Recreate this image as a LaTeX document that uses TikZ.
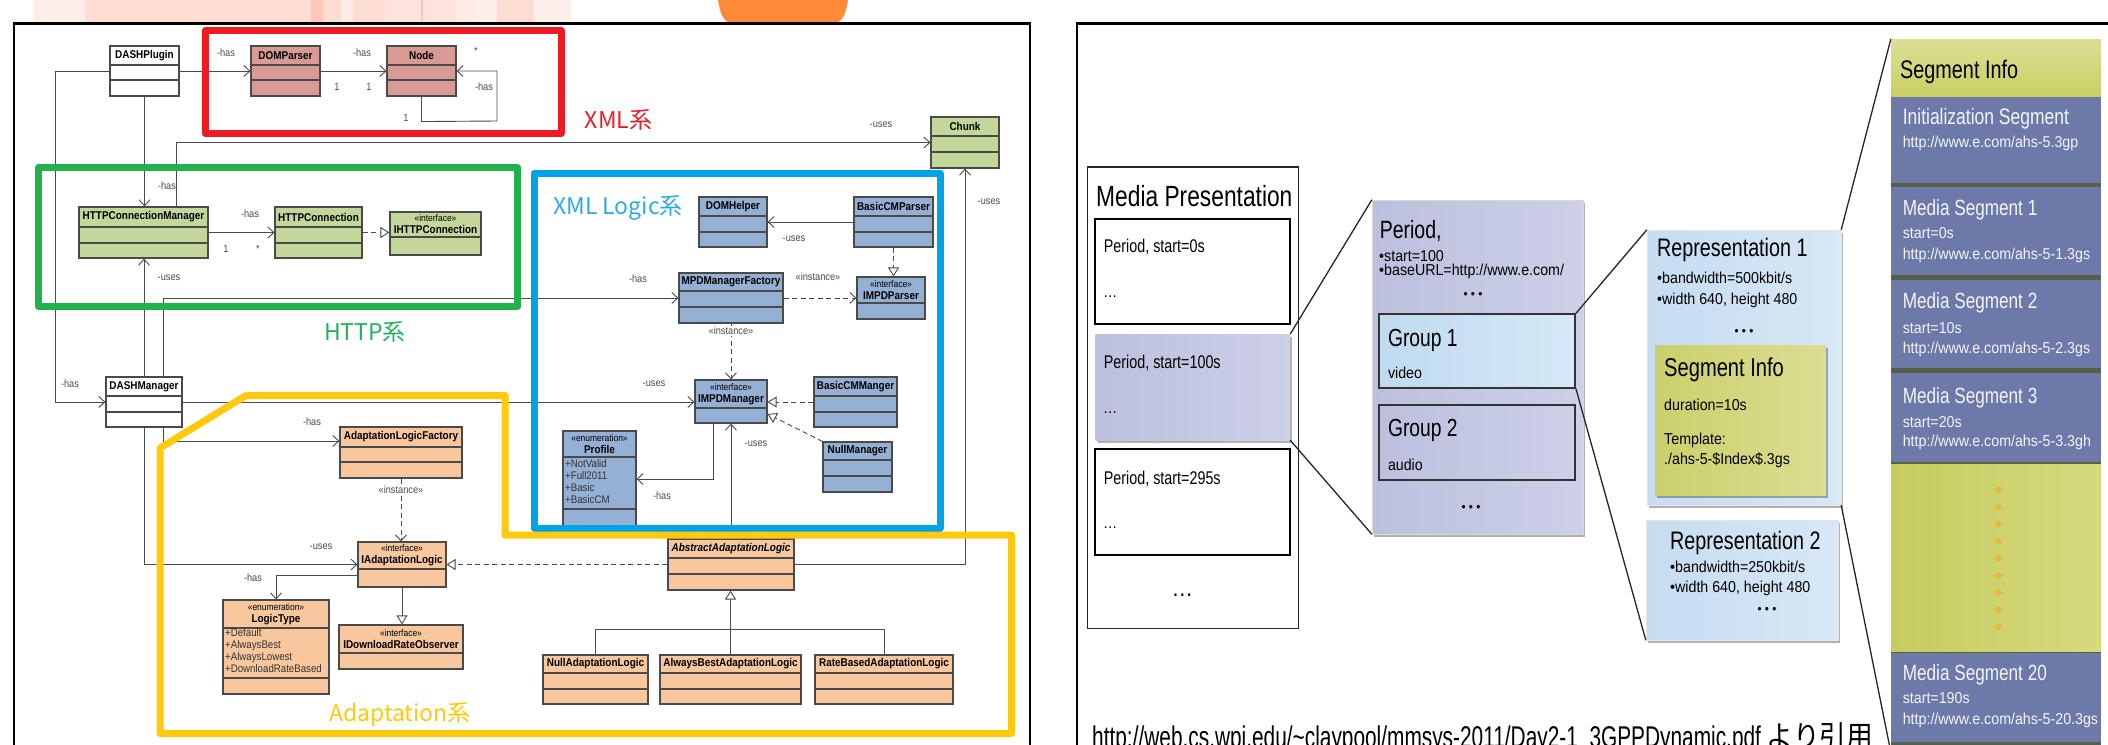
\documentclass[tikz,border=0pt]{standalone}
\usepackage{fontspec}
\usepackage{graphicx}
\setmainfont{Liberation Sans}
\newfontfamily\umlf[FakeStretch=0.88]{Liberation Sans}
\newfontfamily\rpA[FakeStretch=0.78]{Liberation Sans}
\newfontfamily\rpB[FakeStretch=0.9]{Liberation Sans}
\newfontfamily\cjk{Noto Sans CJK JP}
\usetikzlibrary{arrows.meta,fit,shadows}

\definecolor{umlred}{HTML}{D89A94}
\definecolor{umlgreen}{HTML}{C4D79B}
\definecolor{umlblue}{HTML}{95B0D5}
\definecolor{umlpeach}{HTML}{F8C79E}
\definecolor{umlline}{HTML}{4A4A4A}
\definecolor{gred}{HTML}{ED1C24}
\definecolor{ggreen}{HTML}{22B14C}
\definecolor{gblue}{HTML}{00A2E8}
\definecolor{gyellow}{HTML}{FFC90E}
\definecolor{lblue}{HTML}{2AABE4}
\definecolor{lgreen}{HTML}{20B35A}
\definecolor{pk1}{HTML}{FDEEEA}
\definecolor{pk2}{HTML}{FDDDD3}
\definecolor{pk3}{HTML}{FEC6B4}
\definecolor{pk4}{HTML}{FEEAE4}
\definecolor{pk5}{HTML}{FDE3DB}
\definecolor{orng}{HTML}{FF8B3A}
\definecolor{perA}{HTML}{BCC0DD}
\definecolor{perB}{HTML}{CDD0E7}
\definecolor{g1A}{HTML}{BFDAEF}
\definecolor{g1B}{HTML}{D5E9F7}
\definecolor{repA}{HTML}{C6DCF1}
\definecolor{repB}{HTML}{D7E8F6}
\definecolor{siA}{HTML}{CBD06A}
\definecolor{siB}{HTML}{DCDD92}
\definecolor{hdA}{HTML}{DCDF95}
\definecolor{hdB}{HTML}{C9CF63}
\definecolor{segslate}{HTML}{6C79A9}
\definecolor{colsep}{HTML}{56604A}
\definecolor{dotA}{HTML}{C6CC5E}
\definecolor{dotB}{HTML}{D6D97E}
\definecolor{dotcol}{HTML}{E8B93A}
\definecolor{segtxt}{HTML}{F4F5FA}

\tikzset{
  clsbox/.style={draw=umlline, line width=1.1pt},
  clsname/.style={font=\umlf\bfseries\fontsize{11.3}{12}\selectfont, align=center, inner sep=0pt, text=black},
  attr/.style={font=\umlf\fontsize{11}{12.2}\selectfont, align=left, anchor=north west, inner sep=0pt, text=black!80},
  lbl/.style={font=\umlf\fontsize{10.5}{11}\selectfont, text=black!70, inner sep=0pt},
  instlbl/.style={lbl, fill=white, inner sep=1pt},
  assoc/.style={draw=umlline, line width=0.9pt, -{Straight Barb[length=6pt,width=11pt]}},
  dep/.style={assoc, dash pattern=on 5pt off 3.5pt},
  gen/.style={draw=umlline, line width=0.9pt, -{Triangle[open,length=9pt,width=11pt,fill=white]}},
  real/.style={gen, dash pattern=on 5pt off 3.5pt},
  plainln/.style={draw=umlline, line width=0.9pt},
  grp/.style={line width=7pt, line join=round},
  grplbl/.style={font=\cjk\fontsize{23}{26}\selectfont, inner sep=0pt},
  tA/.style={anchor=west, inner sep=0pt, font=\rpA\fontsize{#1}{#1}\selectfont},
  tB/.style={anchor=west, inner sep=0pt, font=\rpB\fontsize{15.8}{17}\selectfont},
  dotsl/.style={inner sep=0pt, font=\rpB\fontsize{13}{13}\selectfont},
  zl/.style={draw=black!85, line width=1.3pt},
  bx/.style={inner sep=0pt},
  shd/.style={drop shadow={shadow xshift=2pt, shadow yshift=-2.5pt, opacity=0.3, fill=black}}
}
\newcommand{\stereo}[1]{{\mdseries\fontsize{9.6}{10}\selectfont «#1»}}
\newcommand{\cls}[9]{%
  \node[fit={(#2,#3)(#4,#5)}, inner sep=0pt, clsbox, fill=#8] (#1) {};
  \draw[clsbox] (#2,#6) -- (#4,#6);
  \draw[clsbox] (#2,#7) -- (#4,#7);
  \node[clsname] (#1-t) at ({(#2+#4)/2},{(#3+#6)/2}) {#9};
}

\begin{document}
\begin{tikzpicture}[x=1pt,y=-1pt]
\path[use as bounding box] (0,0) rectangle (2108,744);
\clip (0,0) rectangle (2108,744);
\fill[white] (0,0) rectangle (2108,744);

% top decoration
\fill[pk1] (34,0) rectangle (84.5,21.5);
\fill[pk2] (84.5,0) rectangle (311,21.5);
\fill[pk3] (311,0) rectangle (323,21.5);
\fill[pk2] (323,0) rectangle (341,21.5);
\fill[pk4] (341,0) rectangle (353,21.5);
\fill[pk2] (353,0) rectangle (385,21.5);
\fill[pk5] (385,0) rectangle (456,21.5);
\fill[pk3] (421,0) rectangle (423,21.5);
\fill[pk4] (456,0) rectangle (475,21.5);
\fill[pk1] (475,0) rectangle (497,21.5);
\fill[pk2] (497,0) rectangle (534,21.5);
\fill[pk1] (534,0) rectangle (571,21.5);
\fill[orng] (718,0) .. controls (720,14) and (724,23) .. (732,23) -- (834,23) .. controls (842,23) and (846,14) .. (848,0) -- cycle;

% frames
\draw[line width=2.5pt] (14,760) -- (14,23.3) -- (1030,23.3) -- (1030,760);
\draw[line width=2.5pt] (1077,760) -- (1077,23.3) -- (2115,23.3);

% ===== UML classes =====
\cls{dplug}{110}{46}{179}{96}{65}{80}{white}{DASHPlugin}
\cls{domp}{251}{46}{320}{96}{65}{80}{umlred}{DOMParser}
\cls{xnode}{387}{46}{456}{96}{65}{80}{umlred}{Node}
\cls{chunk}{931}{117}{999}{168}{136}{152}{umlgreen}{Chunk}
\cls{hcm}{79}{207}{208}{258}{227}{243}{umlgreen}{HTTPConnectionManager}
\cls{hc}{275}{207}{362}{258}{227}{243}{umlgreen}{HTTPConnection}
\cls{ihc}{390}{212}{481}{255}{237}{237}{umlgreen}{\stereo{interface}\\IHTTPConnection}
\cls{domh}{699}{197}{767}{247}{216}{232}{umlblue}{DOMHelper}
\cls{bcmp}{854}{197}{933}{247}{216}{232}{umlblue}{BasicCMParser}
\cls{mmf}{679}{273}{783}{323}{291}{307}{umlblue}{MPDManagerFactory}
\cls{impdp}{857}{277}{925}{319}{303}{303}{umlblue}{\stereo{interface}\\IMPDParser}
\cls{impdm}{695}{380}{767}{423}{408}{408}{umlblue}{\stereo{interface}\\IMPDManager}
\cls{bcmm}{814}{377}{897}{427}{396}{412}{umlblue}{BasicCMManger}
\cls{nullm}{823}{442}{892}{492}{460}{476}{umlblue}{NullManager}
\cls{prof}{563}{431}{636}{526}{457}{509}{umlblue}{\stereo{enumeration}\\Profile}
\cls{dman}{106}{377}{182}{427}{396}{412}{white}{DASHManager}
\cls{alf}{340}{427}{462}{478}{447}{462}{umlpeach}{AdaptationLogicFactory}
\cls{ial}{358}{542}{446}{587}{569}{569}{umlpeach}{\stereo{interface}\\IAdaptationLogic}
\cls{lt}{223}{600}{329}{694}{628}{678}{umlpeach}{\stereo{enumeration}\\LogicType}
\cls{idro}{339}{625}{463}{669}{653}{653}{umlpeach}{\stereo{interface}\\IDownloadRateObserver}
\cls{aal}{668}{539}{794}{590}{558}{574}{umlpeach}{\itshape AbstractAdaptationLogic}
\cls{nal}{543}{655}{648}{704}{673}{689}{umlpeach}{NullAdaptationLogic}
\cls{abal}{660}{655}{801}{704}{673}{689}{umlpeach}{AlwaysBestAdaptationLogic}
\cls{rbal}{815}{655}{953}{704}{673}{689}{umlpeach}{RateBasedAdaptationLogic}

\node[attr] (prof-a) at (565,459) {+NotValid\\+Full2011\\+Basic\\+BasicCM};
\node[attr] (lt-a) at (225,628) {+Default\\+AlwaysBest\\+AlwaysLowest\\+DownloadRateBased};

% ===== UML connectors =====
\draw[assoc] (dplug.east) -- (domp.west);
\draw[assoc] (domp.east) -- (xnode.west);
\draw[assoc] (xnode.south) -- ++(0,25) -- (497,121) |- (xnode.east);
\draw[assoc] (dplug.south) -- (dplug.south |- hcm.north);
\draw[assoc] (dplug.west) -- (55,71) |- (dman.west);
\draw[assoc] (hcm.east) -- (hc.west);
\draw[real] (hc.east) -- (hc.east -| ihc.west);
\draw[assoc] (hcm.north -| 176,0) |- (chunk.west);
\draw[assoc] (dman.north) -- (dman.north |- hcm.south);
\draw[assoc] (dman.north -| 163,0) |- (mmf.west);
\draw[assoc] (dman.east) -- (dman.east -| impdm.west);
\draw[assoc] (dman.south -| 163,0) |- (alf.west |- 0,441);
\draw[assoc] (dman.south) |- (ial.west);
\draw[dep] (alf.south) -- (alf.south |- ial.north);
\draw[assoc] (ial.west |- 0,575) -| (lt.north);
\draw[gen] (ial.south) -- (ial.south |- idro.north);
\draw[real] (aal.west) -- (aal.west -| ial.east);
\draw[assoc] (aal.north) -- (aal.north |- impdm.south);
\draw[assoc] (aal.east) -| (chunk.south);
\draw[plainln] (nal.north) -- (nal.north |- 0,629) -- (rbal.north |- 0,629) -- (rbal.north);
\draw[gen] (abal.north) -- (abal.north |- aal.south);
\draw[dep] (mmf.east) -- (mmf.east -| impdp.west);
\draw[dep] (mmf.south) -- (mmf.south |- impdm.north);
\draw[assoc] (bcmp.west) -- (bcmp.west -| domh.east);
\draw[real] (bcmp.south) -- (bcmp.south |- impdp.north);
\draw[real] (bcmm.west) -- (bcmm.west -| impdm.east);
\draw[real] (nullm.north west) -- (impdm.east |- 0,414);
\draw[assoc] (impdm.south -| 713,0) |- (prof.east |- 0,479);

% connector labels
\node[lbl] (l1) at (226,53) {-has};
\node[lbl] (l2) at (362,53) {-has};
\node[lbl] (l3) at (337,87) {1};
\node[lbl] (l4) at (369,87) {1};
\node[lbl] (l5) at (476,51) {*};
\node[lbl] (l6) at (484,87) {-has};
\node[lbl] (l7) at (406,118) {1};
\node[lbl] (l8) at (167,186) {-has};
\node[lbl] (l9) at (250,214) {-has};
\node[lbl] (l10) at (226,249) {1};
\node[lbl] (l11) at (258,249) {*};
\node[lbl] (l12) at (881,125) {-uses};
\node[lbl] (l13) at (989,202) {-uses};
\node[lbl] (l14) at (169,278) {-uses};
\node[lbl] (l15) at (638,279) {-has};
\node[lbl] (l16) at (654,384) {-uses};
\node[lbl] (l17) at (70,384) {-has};
\node[lbl] (l18) at (312,422) {-has};
\node[instlbl] (l19) at (401,490) {«instance»};
\node[lbl] (l20) at (321,547) {-uses};
\node[lbl] (l21) at (253,578) {-has};
\node[lbl] (l22) at (794,239) {-uses};
\node[lbl] (l23) at (818,277) {«instance»};
\node[instlbl] (l24) at (731,331) {«instance»};
\node[lbl] (l25) at (756,444) {-uses};
\node[lbl] (l26) at (662,496) {-has};

% group outlines
\draw[grp, gred] (205,30.5) rectangle (561,133.5);
\draw[grp, ggreen] (38.5,167.5) rectangle (517.5,306.5);
\draw[grp, gblue] (534,173) rectangle (940,528);
\draw[grp, gyellow] (160,448) -- (246,395.5) -- (505,395.5) -- (505,535) -- (1011.5,535) -- (1011.5,733.5) -- (160,733.5) -- cycle;

\node[grplbl, text=gred] (gx) at (618.5,120) {XML系};
\node[grplbl, text=lblue] (gxl) at (618,208) {XML Logic系};
\node[grplbl, text=lgreen] (gh) at (365,332) {HTTP系};
\node[grplbl, text=gyellow] (ga) at (400,715) {Adaptation系};

% ===== right panel =====
\node[bx, fit={(1087.5,166.7)(1298.6,628.3)}, draw=black!85, line width=1.6pt, fill=white] (mp) {};
\node[bx, fit={(1095,219)(1290.3,324.3)}, draw=black, line width=2pt, fill=white] (p0) {};
\node[bx, fit={(1095.7,334.3)(1290,440)}, left color=perA, right color=perB, shd] (p100) {};
\node[bx, fit={(1095,449.3)(1290,555)}, draw=black, line width=2pt, fill=white] (p295) {};

\node[tA=29.2] (tmp) at (1096,196.5) {Media Presentation};
\node[tA=18.4] (tp0) at (1103.6,247) {Period, start=0s};
\node[tB] (tp0d) at (1103,297) {…};
\node[tA=18.4] (tp1) at (1103.6,363) {Period, start=100s};
\node[tB] (tp1d) at (1103,413) {…};
\node[tA=18.4] (tp2) at (1103.6,479) {Period, start=295s};
\node[tB] (tp2d) at (1103,528) {…};
\node[inner sep=0pt, font=\rpB\fontsize{24}{24}\selectfont] (tmpd) at (1182.5,595) {…};

\node[bx, fit={(1372,200)(1583,534)}, draw=black!15, left color=perA, right color=perB, shd] (per) {};
\node[bx, fit={(1379,314.3)(1575,387.7)}, draw=black!80, line width=1.8pt, left color=g1A, right color=g1B] (g1) {};
\node[bx, fit={(1379,405)(1575,480)}, draw=black!80, line width=1.8pt, left color=perA, right color=perB] (g2) {};

\node[tA=25] (tper) at (1379.6,231) {Period,};
\node[tB] (tper1) at (1379,256) {•start=100};
\node[tB] (tper2) at (1379,271) {•baseURL=http://www.e.com/};
\node[dotsl] (tperd) at (1473,295) {• • •};
\node[tA=24.7] (tg1) at (1387.8,340) {Group 1};
\node[tB] (tg1b) at (1387.8,373) {video};
\node[tA=24.7] (tg2) at (1387.8,430) {Group 2};
\node[tB] (tg2b) at (1387.8,465) {audio};
\node[dotsl] (tperd2) at (1471,508) {• • •};

\node[bx, fit={(1647,230)(1841,505)}, draw=black!10, left color=repA, right color=repB, shd] (rep1) {};
\node[bx, fit={(1655,345)(1826,495)}, left color=siA, right color=siB, shd] (si) {};
\node[bx, fit={(1646,520)(1838,640)}, draw=black!10, left color=repA, right color=repB, shd] (rep2) {};

\node[tA=25.3] (tr1) at (1657,250) {Representation 1};
\node[tB] (tr1a) at (1657,278) {•bandwidth=500kbit/s};
\node[tB] (tr1b) at (1657,300) {•width 640, height 480};
\node[dotsl] (tr1d) at (1744,332) {• • •};
\node[tA=25.8] (tsi) at (1664,370) {Segment Info};
\node[tB] (tsi1) at (1664,405) {duration=10s};
\node[tB] (tsi2) at (1664,440) {Template:};
\node[tB] (tsi3) at (1664,460) {./ahs-5-\$Index\$.3gs};
\node[tA=25.3] (tr2) at (1670,543) {Representation 2};
\node[tB] (tr2a) at (1670,567) {•bandwidth=250kbit/s};
\node[tB] (tr2b) at (1670,588) {•width 640, height 480};
\node[dotsl] (tr2d) at (1767,610) {• • •};

% segment column
\node[bx, fit={(1891,39.3)(2101,752)}, fill=colsep] (col) {};
\node[bx, fit={(1891,39.3)(2101,96.7)}, top color=hdA, bottom color=hdB] (colh) {};
\node[bx, fit={(1891,96.7)(2101,183.3)}, fill=segslate] (sinit) {};
\node[bx, fit={(1891,187.3)(2101,275)}, fill=segslate] (s1) {};
\node[bx, fit={(1891,280)(2101,368.3)}, fill=segslate] (s2) {};
\node[bx, fit={(1891,373.3)(2101,461.7)}, fill=segslate] (s3) {};
\node[bx, fit={(1891,464)(2101,651)}, left color=dotA, right color=dotB] (sdots) {};
\node[bx, fit={(1891,653)(2101,742)}, fill=segslate] (s20) {};
\foreach \i in {0,...,8} \fill[dotcol] (1998.5,{490+\i*17.1}) circle (3.4pt);

\node[tA=25.4] (tcolh) at (1900,71.7) {Segment Info};
\begin{scope}[every node/.append style={text=segtxt}]
\node[tA=22.4] (ti) at (1902.6,118.3) {Initialization Segment};
\node[tB] (ti2) at (1902.6,143.3) {http://www.e.com/ahs-5.3gp};
\node[tA=22] (t1) at (1902.6,210) {Media Segment 1};
\node[tB] (t1a) at (1902.6,233.3) {start=0s};
\node[tB] (t1b) at (1902.6,255) {http://www.e.com/ahs-5-1.3gs};
\node[tA=22] (t2) at (1902.6,303.3) {Media Segment 2};
\node[tB] (t2a) at (1902.6,328.3) {start=10s};
\node[tB] (t2b) at (1902.6,349.3) {http://www.e.com/ahs-5-2.3gs};
\node[tA=22] (t3) at (1902.6,398.3) {Media Segment 3};
\node[tB] (t3a) at (1902.6,421.7) {start=20s};
\node[tB] (t3b) at (1902.6,442.7) {http://www.e.com/ahs-5-3.3gh};
\node[tA=22] (t20) at (1902.6,675) {Media Segment 20};
\node[tB] (t20a) at (1902.6,698.3) {start=190s};
\node[tB] (t20b) at (1902.6,720) {http://www.e.com/ahs-5-20.3gs};
\end{scope}

% zoom lines
\draw[zl] (p100.north east) -- (per.north west);
\draw[zl] (p100.south east) -- (per.south west);
\draw[zl] (g1.north east) -- (rep1.north west);
\draw[zl] (g1.south east) -- (rep2.south west);
\draw[zl] (rep1.north east) -- (col.north west);
\draw[zl] (rep1.south east) -- (col.south west);

% citation (cut at the bottom edge, as in the reference)
\node[anchor=base west, inner sep=0pt] (cite) at (1092,747.5) {\resizebox{781pt}{\height}{\rpA\fontsize{30}{32}\selectfont http://web.cs.wpi.edu/\textasciitilde claypool/mmsys-2011/Day2-1\_3GPPDynamic.pdf {\cjk より引用}}};
\end{tikzpicture}
\end{document}
